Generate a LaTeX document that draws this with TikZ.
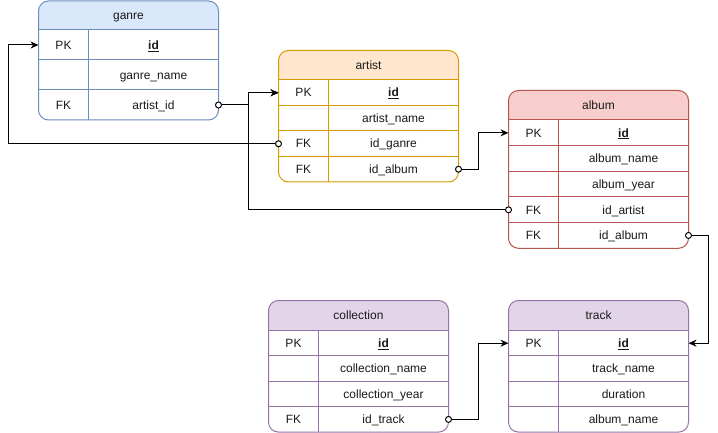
\documentclass[tikz,border=0pt]{standalone}
\usepackage{fontspec}
\setmainfont{Liberation Sans}
\usetikzlibrary{arrows.meta,calc}

\definecolor{blueFill}{HTML}{DAE8FC}\definecolor{blueLine}{HTML}{6C8EBF}
\definecolor{orangeFill}{HTML}{FFE6CC}\definecolor{orangeLine}{HTML}{D79B00}
\definecolor{redFill}{HTML}{F8CECC}\definecolor{redLine}{HTML}{B85450}
\definecolor{purpleFill}{HTML}{E1D5E7}\definecolor{purpleLine}{HTML}{9673A6}
\definecolor{ink}{HTML}{1A1A1A}

\tikzset{
  x=1pt, y=-1pt,
  every node/.style={inner sep=0pt, outer sep=0pt, text=ink,
    text height=10.9pt, text depth=2.5pt, font=\fontsize{12}{14}\selectfont},
  keycell/.style={minimum width=50pt, anchor=north west},
  fieldcell/.style={minimum width=130pt, anchor=north west},
  link/.style={draw=black, line width=1pt, -{Stealth[length=8pt,width=7pt]}},
  fkdot/.style={draw=black, fill=white, line width=1pt},
}

% table frame: #1 id, #2 x, #3 top, #4 header height, #5 row height,
% #6 number of rows, #7 fill, #8 stroke, #9 title
\newcommand\dbtable[9]{%
  \pgfmathsetmacro\tbbot{#3+#4+#6*#5}%
  \def\tbx{#2}\pgfmathsetmacro\tby{#3+#4}\def\tbrh{#5}%
  \fill[white, rounded corners=10pt] (#2,#3) rectangle (#2+180,\tbbot);
  \begin{scope}
    \clip[rounded corners=10pt] (#2,#3) rectangle (#2+180,\tbbot);
    \fill[#7] (#2,#3) rectangle (#2+180,#3+#4);
    \foreach \i in {1,...,#6}
      \draw[#8, line width=1pt] (#2,#3+#4+\i*#5-#5) -- ++(180,0);
    \draw[#8, line width=1pt] (#2+50,#3+#4) -- (#2+50,\tbbot);
  \end{scope}
  \draw[#8, line width=1pt, rounded corners=10pt] (#2,#3) rectangle (#2+180,\tbbot);
  \node[minimum width=180pt, minimum height=#4pt] (#1) at (#2+90,#3+#4/2) {#9};
}

% table row: #1 id, #2 index, #3 key, #4 field
\newcommand\dbrow[4]{%
  \pgfmathsetmacro\rowtop{\tby+(#2-1)*\tbrh}%
  \node[keycell, minimum height=\tbrh pt] (#1-k) at (\tbx,\rowtop) {#3};
  \node[fieldcell, minimum height=\tbrh pt] (#1) at (\tbx+50,\rowtop) {#4};
}

\newcommand\pkid{\textbf{\underline{id}}}

\begin{document}
\begin{tikzpicture}
\useasboundingbox (0,0) rectangle (718,433);

% ganre
\dbtable{ganre}{38.5}{1}{29}{30}{3}{blueFill}{blueLine}{ganre}
\dbrow{ganre-id}{1}{PK}{\pkid}
\dbrow{ganre-name}{2}{}{ganre\_name}
\dbrow{ganre-artistid}{3}{FK}{artist\_id}

% artist
\dbtable{artist}{278.5}{50.5}{29.5}{25.5}{4}{orangeFill}{orangeLine}{artist}
\dbrow{artist-id}{1}{PK}{\pkid}
\dbrow{artist-name}{2}{}{artist\_name}
\dbrow{artist-idganre}{3}{FK}{id\_ganre}
\dbrow{artist-idalbum}{4}{FK}{id\_album}

% album
\dbtable{album}{508.5}{90.5}{29.5}{25.66}{5}{redFill}{redLine}{album}
\dbrow{album-id}{1}{PK}{\pkid}
\dbrow{album-name}{2}{}{album\_name}
\dbrow{album-year}{3}{}{album\_year}
\dbrow{album-idartist}{4}{FK}{id\_artist}
\dbrow{album-idalbum}{5}{FK}{id\_album}

% collection
\dbtable{collection}{268.5}{300.5}{30}{25.4}{4}{purpleFill}{purpleLine}{collection}
\dbrow{collection-id}{1}{PK}{\pkid}
\dbrow{collection-name}{2}{}{collection\_name}
\dbrow{collection-year}{3}{}{collection\_year}
\dbrow{collection-idtrack}{4}{FK}{id\_track}

% track
\dbtable{track}{508.5}{300.5}{30}{25.4}{4}{purpleFill}{purpleLine}{track}
\dbrow{track-id}{1}{PK}{\pkid}
\dbrow{track-name}{2}{}{track\_name}
\dbrow{track-duration}{3}{}{duration}
\dbrow{track-albumname}{4}{}{album\_name}

% relations
\draw[link] (ganre-artistid.east) -- ++(30,0) |- (artist-id-k.west);
\draw[link] (album-idartist-k.west) -- ++(-260,0) |- (artist-id-k.west);
\draw[link] (artist-idganre-k.west) -- ++(-270,0) |- (ganre-id-k.west);
\draw[link] (artist-idalbum.east) -- ++(20,0) |- (album-id-k.west);
\draw[link] (album-idalbum.east) -- ++(20,0) |- (track-id.east);
\draw[link] (collection-idtrack.east) -- ++(30,0) |- (track-id-k.west);

% foreign-key end markers
\foreach \n in {ganre-artistid.east, album-idartist-k.west, artist-idganre-k.west,
                artist-idalbum.east, album-idalbum.east, collection-idtrack.east}
  \draw[fkdot] (\n) circle[radius=3pt];
\end{tikzpicture}
\end{document}
